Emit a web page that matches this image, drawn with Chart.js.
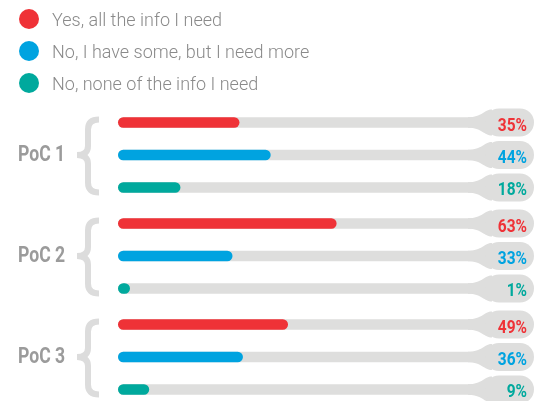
<!DOCTYPE html>
<html>
<head>
<meta charset="utf-8">
<script src="https://cdn.jsdelivr.net/npm/chart.js@4/dist/chart.umd.min.js"></script>
<style>
  html, body { margin: 0; padding: 0; background: #ffffff; }
  #wrap { position: relative; width: 537px; height: 401px; }
</style>
</head>
<body>
<div id="wrap"><canvas id="c" width="537" height="401"></canvas></div>
<script>
// ---- data ----
const groups = ['PoC 1', 'PoC 2', 'PoC 3'];
const answers = ['Yes, all the info I need', 'No, I have some, but I need more', 'No, none of the info I need'];
const yesValues = [35, 63, 49];
const someValues = [44, 33, 36];
const noneValues = [18, 1, 9];

const colors = ['#ef3237', '#00a3e0', '#00a99d'];
const FONT = "Roboto, 'Liberation Sans', sans-serif";
const TRACK = '#dededd';

const seriesValues = [yesValues, someValues, noneValues];

function drawScaled(ctx, text, x, y, font, sx, align) {
  ctx.save();
  ctx.translate(x, y);
  ctx.scale(sx, 1);
  ctx.font = font;
  ctx.textAlign = align;
  ctx.textBaseline = 'alphabetic';
  ctx.fillText(text, 0, 0);
  ctx.restore();
}

const decorPlugin = {
  id: 'decor',
  beforeDatasetsDraw(chart) {
    const ctx = chart.ctx;
    const area = chart.chartArea;
    ctx.save();
    ctx.fillStyle = TRACK;
    chart.data.datasets.forEach((ds, di) => {
      const meta = chart.getDatasetMeta(di);
      meta.data.forEach((bar) => {
        const y = bar.y;
        const h = bar.height;
        // track
        ctx.beginPath();
        ctx.roundRect(area.left, y - h / 2, 500 - area.left, h, h / 2);
        ctx.fill();
        // fillet into pill
        ctx.beginPath();
        ctx.moveTo(468, y - h / 2);
        ctx.bezierCurveTo(482, y - h / 2, 484, y - 13, 492, y - 13);
        ctx.lineTo(492, y + 13);
        ctx.bezierCurveTo(484, y + 13, 482, y + h / 2, 468, y + h / 2);
        ctx.closePath();
        ctx.fill();
        // pill
        ctx.beginPath();
        ctx.roundRect(485, y - 14, 49, 28, 14);
        ctx.fill();
      });
    });
    ctx.restore();
  },
  afterDatasetsDraw(chart) {
    const ctx = chart.ctx;
    ctx.save();
    // percentage labels
    chart.data.datasets.forEach((ds, di) => {
      const meta = chart.getDatasetMeta(di);
      meta.data.forEach((bar, i) => {
        ctx.fillStyle = ds.backgroundColor;
        drawScaled(ctx, ds.data[i] + '%', 527, bar.y + 8, 'bold 18px ' + FONT, 0.86, 'right');
      });
    });
    // group labels and braces
    const metas = chart.data.datasets.map((d, di) => chart.getDatasetMeta(di));
    chart.data.labels.forEach((lab, gi) => {
      const y0 = metas[0].data[gi].y;
      const y2 = metas[metas.length - 1].data[gi].y;
      const mid = chart.scales.y.getPixelForValue(gi);
      ctx.fillStyle = '#9b9b9b';
      drawScaled(ctx, lab, 18, mid + 6, 'bold 22px ' + FONT, 0.8, 'left');
      // brace
      const top = y0 - 3, bot = y2 + 5, xs = 88, xt = 99, xp = 77;
      ctx.strokeStyle = '#dcdcdc';
      ctx.lineWidth = 6;
      ctx.beginPath();
      ctx.moveTo(xt, top);
      ctx.quadraticCurveTo(xs, top, xs, top + 10);
      ctx.lineTo(xs, mid - 9);
      ctx.quadraticCurveTo(xs, mid, xp, mid);
      ctx.quadraticCurveTo(xs, mid, xs, mid + 9);
      ctx.lineTo(xs, bot - 10);
      ctx.quadraticCurveTo(xs, bot, xt, bot);
      ctx.stroke();
    });
    // legend
    chart.data.datasets.forEach((ds, di) => {
      const cy = 19 + di * 32;
      ctx.fillStyle = ds.backgroundColor;
      ctx.beginPath();
      ctx.arc(29, cy, 10, 0, Math.PI * 2);
      ctx.fill();
      ctx.fillStyle = '#8a8a8a';
      drawScaled(ctx, ds.label, 52, cy + 7, '300 18px ' + FONT, 1, 'left');
    });
    ctx.restore();
  }
};

new Chart(document.getElementById('c'), {
  type: 'bar',
  data: {
    labels: groups,
    datasets: answers.map((a, i) => ({
      label: a,
      data: seriesValues[i],
      backgroundColor: colors[i],
      borderRadius: 6,
      borderSkipped: false,
      minBarLength: 12,
      categoryPercentage: 0.965,
      barPercentage: 0.32,
      clip: false
    }))
  },
  options: {
    indexAxis: 'y',
    responsive: false,
    animation: false,
    events: [],
    layout: { padding: { left: 118, right: 72, top: 155, bottom: 44 } },
    scales: {
      x: { display: false, min: 0, max: 100 },
      y: { display: false, offset: false, grid: { display: false } }
    },
    plugins: { legend: { display: false }, tooltip: { enabled: false } }
  },
  plugins: [decorPlugin]
});
</script>
</body>
</html>
